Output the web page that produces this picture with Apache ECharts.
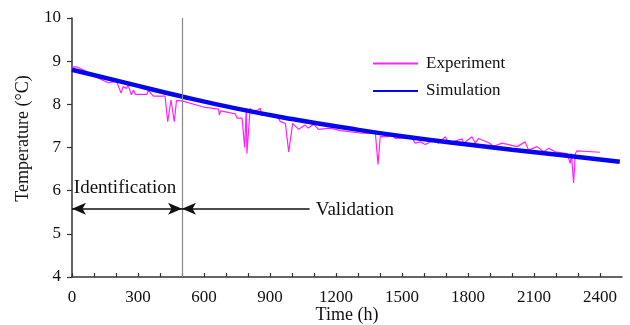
<!DOCTYPE html>
<html>
<head>
<meta charset="utf-8">
<script src="https://cdn.jsdelivr.net/npm/echarts@6/dist/echarts.min.js"></script>
<style>
  html, body { margin: 0; padding: 0; background: #fff; }
  #chart { width: 630px; height: 325px; }
</style>
</head>
<body>
<div id="chart"></div>
<script>
const FONT = "'Liberation Serif', 'Times New Roman', serif"

// Time (h) / temperature (°C)
const experiment = [
  [0, 8.86], [20, 8.87], [50, 8.80], [110, 8.63], [165, 8.50], [203, 8.53], [223, 8.26],
  [232, 8.41], [247, 8.37], [255, 8.45], [270, 8.22], [280, 8.33], [288, 8.23], [340, 8.23],
  [347, 8.32], [370, 8.19], [423, 8.19], [435, 7.60], [450, 8.10], [465, 7.60], [475, 8.09],
  [500, 8.08], [589, 7.95], [606, 7.93], [666, 7.89], [670, 7.75], [676, 7.85], [742, 7.78],
  [751, 7.68], [773, 7.68], [785, 7.00], [792, 7.91], [795, 6.86], [810, 7.91], [820, 7.78],
  [856, 7.91], [860, 7.75], [932, 7.73], [947, 7.60], [970, 7.56], [985, 6.90], [1003, 7.56],
  [1030, 7.42], [1060, 7.52], [1074, 7.45], [1098, 7.54], [1120, 7.42], [1174, 7.45],
  [1220, 7.39], [1242, 7.38], [1318, 7.33], [1379, 7.33], [1391, 6.61], [1401, 7.25],
  [1439, 7.25], [1450, 7.31], [1470, 7.21], [1545, 7.23], [1560, 7.10], [1583, 7.13],
  [1606, 7.07], [1644, 7.17], [1666, 7.10], [1697, 7.25], [1712, 7.10], [1773, 7.20],
  [1780, 7.10], [1818, 7.25], [1833, 7.10], [1848, 7.21], [1894, 7.11], [1916, 7.03],
  [1955, 7.10], [2023, 7.02], [2060, 7.13], [2075, 6.94], [2114, 7.02], [2144, 6.90],
  [2167, 6.98], [2197, 6.90], [2250, 6.86], [2265, 6.63], [2270, 6.86], [2280, 6.18],
  [2288, 6.86], [2295, 6.92], [2401, 6.89]
]

const simulation = [
  [0, 8.80], [250, 8.49], [500, 8.18], [750, 7.90], [1000, 7.66], [1250, 7.45],
  [1500, 7.26], [1750, 7.10], [2000, 6.95], [2250, 6.81], [2490, 6.67]
]

const splitTime = 500
const arrowLevel = 5.58
const validationArrowStart = 1080
const xLabelStep = 300
const idLabel = { text: 'Identification', coord: [6, 6.06] }
const valLabel = { text: 'Validation', coord: [1106, 5.56] }

const chart = echarts.init(document.getElementById('chart'), null, { renderer: 'canvas' })

const textLabel = (item) => ({
  coord: item.coord,
  symbol: 'circle', symbolSize: 1,
  itemStyle: { color: 'rgba(0,0,0,0)' },
  label: {
    show: true, position: 'right', distance: 0, formatter: item.text,
    color: '#111', fontFamily: FONT, fontSize: 19
  }
})

chart.setOption({
  backgroundColor: '#fff',
  animation: false,
  grid: { left: 72, right: 8, top: 18, bottom: 48, outerBoundsMode: 'none', containLabel: false },
  legend: {
    orient: 'vertical',
    left: 372, top: 55, padding: 0,
    itemWidth: 45, itemHeight: 16, itemGap: 10.5,
    itemStyle: { opacity: 0 },
    textStyle: { color: '#111', fontFamily: FONT, fontSize: 17, padding: [0, 0, 0, 3] },
    data: ['Experiment', 'Simulation']
  },
  xAxis: {
    type: 'value', min: 0, max: 2500, interval: 100,
    name: 'Time (h)', nameLocation: 'middle', nameGap: 29, nameMoveOverlap: false,
    nameTextStyle: { color: '#111', fontFamily: FONT, fontSize: 18 },
    axisLine: { lineStyle: { color: '#333', width: 1.5 } },
    axisTick: { inside: true, length: 4, lineStyle: { color: '#333', width: 1.2 } },
    axisLabel: {
      showMaxLabel: false, margin: 12,
      formatter: (v) => (v % xLabelStep === 0 ? String(v) : ''),
      color: '#111', fontFamily: FONT, fontSize: 17
    },
    splitLine: { show: false }
  },
  yAxis: {
    type: 'value', min: 4, max: 10, interval: 1,
    name: 'Temperature (°C)', nameLocation: 'middle', nameGap: 40, nameMoveOverlap: false,
    nameTextStyle: { color: '#111', fontFamily: FONT, fontSize: 18, padding: [0, 0, 0, 18] },
    axisLine: { show: true, lineStyle: { color: '#333', width: 1.5 } },
    axisTick: { show: true, length: 5, lineStyle: { color: '#333', width: 1.2 } },
    axisLabel: { margin: 11, color: '#111', fontFamily: FONT, fontSize: 17 },
    splitLine: { show: false }
  },
  series: [
    {
      name: 'Experiment', type: 'line', data: experiment,
      symbol: 'none', lineStyle: { color: '#ff22ff', width: 1.2 },
      itemStyle: { color: '#ff22ff' }, z: 2
    },
    {
      name: 'Simulation', type: 'line', data: simulation,
      smooth: true, symbol: 'none', lineStyle: { color: '#0505f0', width: 4.5 },
      itemStyle: { color: '#0505f0' }, z: 3
    },
    {
      type: 'line', data: [], z: 1, silent: true,
      markLine: {
        silent: true, animation: false,
        label: { show: false },
        data: [
          [
            { coord: [splitTime, 10], symbol: 'none', lineStyle: { color: '#888', width: 1.2, type: 'solid' } },
            { coord: [splitTime, 4], symbol: 'none' }
          ],
          [
            { coord: [0, arrowLevel], symbol: 'arrow', symbolSize: [9, 14], lineStyle: { color: '#111', width: 1.5, type: 'solid' } },
            { coord: [splitTime, arrowLevel], symbol: 'arrow', symbolSize: [9, 14] }
          ],
          [
            { coord: [validationArrowStart, arrowLevel], symbol: 'none', lineStyle: { color: '#111', width: 1.5, type: 'solid' } },
            { coord: [splitTime, arrowLevel], symbol: 'arrow', symbolSize: [9, 14] }
          ]
        ]
      },
      markPoint: {
        silent: true, animation: false,
        data: [textLabel(idLabel), textLabel(valLabel)]
      }
    }
  ]
})
</script>
</body>
</html>
